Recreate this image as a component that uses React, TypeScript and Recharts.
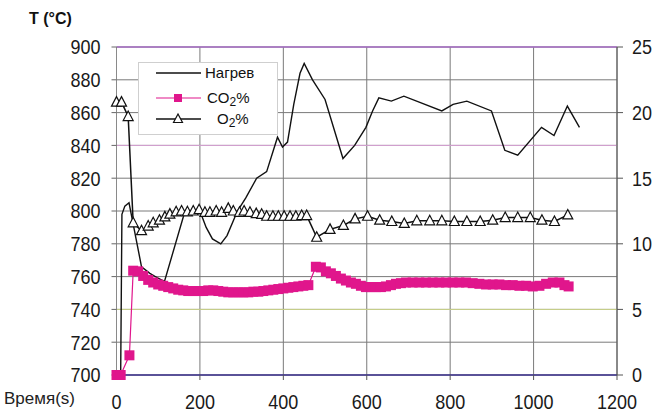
import React from 'react';
import { LineChart, Line, XAxis, YAxis, CartesianGrid, ReferenceLine, Legend } from 'recharts';

// Heating curve (Нагрев), left axis °C
const heatTime = [0, 10, 13, 20, 30, 60, 80, 100, 115, 162, 180, 200, 215, 230, 250, 265, 290, 310, 336, 360, 386, 398, 410, 425, 440, 450, 470, 500, 543, 571, 598, 614, 629, 659, 689, 780, 807, 840, 899, 931, 962, 1019, 1049, 1081, 1110];
const heatTemp = [700, 700, 798, 803, 805, 766, 762, 759, 757, 798, 800, 800, 790, 783, 780, 785, 800, 808, 820, 824, 845, 839, 842, 865, 884, 890, 880, 868, 832, 840, 851, 861, 869, 867, 870, 861, 865, 867, 861, 837, 834, 851, 846, 864, 851];

// CO2 %, right axis
const co2Time = [0, 10, 31, 40, 52, 64, 76, 88, 100, 112, 124, 136, 148, 160, 172, 184, 196, 208, 220, 232, 244, 256, 268, 280, 292, 304, 316, 328, 340, 352, 364, 376, 388, 400, 412, 424, 436, 448, 460, 478, 490, 502, 514, 526, 538, 550, 562, 574, 586, 598, 610, 622, 634, 646, 658, 670, 682, 694, 710, 726, 742, 758, 774, 790, 806, 822, 838, 854, 870, 886, 902, 918, 934, 950, 966, 982, 998, 1014, 1030, 1046, 1062, 1074, 1084];
const co2Value = [0, 0, 1.5, 7.95, 7.9, 7.55, 7.25, 7.05, 6.9, 6.8, 6.7, 6.6, 6.5, 6.45, 6.4, 6.4, 6.4, 6.4, 6.45, 6.45, 6.4, 6.35, 6.3, 6.3, 6.3, 6.3, 6.3, 6.35, 6.35, 6.4, 6.45, 6.5, 6.55, 6.6, 6.65, 6.7, 6.75, 6.8, 6.85, 8.25, 8.2, 7.9, 7.75, 7.55, 7.35, 7.2, 7.05, 6.95, 6.8, 6.7, 6.7, 6.7, 6.7, 6.75, 6.85, 6.95, 7.0, 7.05, 7.05, 7.05, 7.05, 7.05, 7.05, 7.05, 7.05, 7.05, 7.05, 7.0, 6.95, 6.9, 6.9, 6.9, 6.85, 6.85, 6.8, 6.8, 6.75, 6.8, 6.95, 7.05, 7.05, 6.85, 6.75];

// O2 %, right axis
const o2Time = [0, 12, 28, 40, 60, 76, 88, 103, 116, 128, 143, 156, 170, 184, 198, 212, 224, 239, 252, 268, 280, 295, 306, 320, 335, 348, 360, 375, 388, 402, 416, 430, 444, 456, 480, 512, 544, 572, 602, 631, 660, 690, 720, 751, 780, 810, 840, 872, 902, 932, 962, 992, 1020, 1050, 1082];
const o2Value = [20.8, 20.8, 19.7, 11.6, 11.0, 11.35, 11.6, 11.8, 12.05, 12.26, 12.44, 12.5, 12.44, 12.5, 12.6, 12.4, 12.4, 12.5, 12.4, 12.7, 12.5, 12.4, 12.5, 12.4, 12.3, 12.25, 12.1, 12.1, 12.1, 12.1, 12.1, 12.1, 12.15, 12.15, 10.5, 11.1, 11.4, 11.9, 12.1, 11.8, 11.7, 11.55, 11.75, 11.75, 11.75, 11.7, 11.7, 11.7, 11.8, 12.0, 12.0, 12.0, 11.8, 11.7, 12.2];

const xTicks = [0, 200, 400, 600, 800, 1000, 1200];
const tempTicks = [700, 720, 740, 760, 780, 800, 820, 840, 860, 880, 900];
const pctTicks = [0, 5, 10, 15, 20, 25];

const heatData = heatTime.map((t, i) => ({ t, v: heatTemp[i] }));
const co2Data = co2Time.map((t, i) => ({ t, v: co2Value[i] }));
const o2Data = o2Time.map((t, i) => ({ t, v: o2Value[i] }));

const FONT = '"Liberation Sans", Arial, Helvetica, sans-serif';
const PINK = '#e0168c';
const TICK_FS = 18;
const STRETCH = 1.15;

const Square = (props: any) => {
  const { cx, cy, index } = props;
  if (cx == null || cy == null) return <g key={`sq${index}`} />;
  return <rect key={`sq${index}`} x={cx - 5} y={cy - 5} width={10} height={10} fill={PINK} />;
};

const Tri = (props: any) => {
  const { cx, cy, index } = props;
  if (cx == null || cy == null) return <g key={`tr${index}`} />;
  return (
    <polygon
      key={`tr${index}`}
      points={`${cx},${cy - 5.5} ${cx - 5},${cy + 4} ${cx + 5},${cy + 4}`}
      fill="#fff"
      stroke="#111"
      strokeWidth={1.2}
    />
  );
};

const stretched = (x: number, y: number) => `translate(${x},${y}) scale(1,${STRETCH}) translate(${-x},${-y})`;

const XTick = (props: any) => {
  const { x, y, payload } = props;
  return (
    <text x={x} y={y} dy="0.71em" textAnchor="middle" transform={stretched(x, y)} fontFamily={FONT} fontSize={TICK_FS} fill="#1a1a1a">
      {payload.value}
    </text>
  );
};

const LeftTick = (props: any) => {
  const { x, y, payload } = props;
  return (
    <text x={x} y={y} dy="0.355em" textAnchor="end" transform={stretched(x, y)} fontFamily={FONT} fontSize={TICK_FS} fill="#1a1a1a">
      {payload.value}
    </text>
  );
};

const RightTick = (props: any) => {
  const { x, y, payload } = props;
  return (
    <text x={x} y={y} dy="0.355em" textAnchor="start" transform={stretched(x, y)} fontFamily={FONT} fontSize={TICK_FS} fill="#1a1a1a">
      {payload.value}
    </text>
  );
};

const LegendBox = () => (
  <div
    style={{
      position: 'relative',
      width: 140,
      height: 73,
      border: '1px solid #cfcfcf',
      background: '#fff',
      fontFamily: FONT,
      fontSize: 15,
      color: '#111',
      boxSizing: 'border-box',
    }}
  >
    <svg width={140} height={73} style={{ position: 'absolute', left: 0, top: 0 }}>
      <line x1={17} x2={62} y1={10} y2={10} stroke="#111" strokeWidth={1.5} />
      <line x1={17} x2={62} y1={35} y2={35} stroke={PINK} strokeWidth={1.2} />
      <rect x={35} y={31} width={8} height={8} fill={PINK} />
      <line x1={17} x2={62} y1={56} y2={56} stroke="#111" strokeWidth={1.5} />
      <polygon points="39,51 34.5,59.5 43.5,59.5" fill="#fff" stroke="#111" strokeWidth={1.2} />
    </svg>
    <div style={{ position: 'absolute', left: 66, top: 1, lineHeight: '17px' }}>Нагрев</div>
    <div style={{ position: 'absolute', left: 68, top: 26, lineHeight: '17px' }}>
      CO<sub style={{ fontSize: 12, verticalAlign: -3 }}>2</sub>%
    </div>
    <div style={{ position: 'absolute', left: 78, top: 47, lineHeight: '17px' }}>
      O<sub style={{ fontSize: 12, verticalAlign: -3 }}>2</sub>%
    </div>
  </div>
);

export default function App() {
  return (
    <div style={{ position: 'absolute', left: 0, top: 0, width: 670, height: 419, background: '#fff' }}>
      <LineChart width={670} height={419} margin={{ top: 47, right: 13, bottom: 0, left: 56.5 }}>
        <CartesianGrid yAxisId="left" stroke="#7a7a7a" strokeWidth={1} />
        <XAxis
          dataKey="t"
          type="number"
          domain={[0, 1200]}
          ticks={xTicks}
          allowDuplicatedCategory={false}
          tick={<XTick />}
          tickSize={5}
          tickMargin={14}
          height={44}
          tickLine={{ stroke: '#555' }}
          axisLine={{ stroke: '#3a2f8c', strokeWidth: 1.5 }}
        />
        <YAxis
          yAxisId="left"
          domain={[700, 900]}
          ticks={tempTicks}
          width={60}
          tick={<LeftTick />}
          tickSize={5}
          tickMargin={11}
          axisLine={{ stroke: '#8a8a8a' }}
          tickLine={{ stroke: '#666' }}
        />
        <YAxis
          yAxisId="right"
          orientation="right"
          domain={[0, 25]}
          ticks={pctTicks}
          width={40}
          tick={<RightTick />}
          tickSize={6}
          tickMargin={9}
          axisLine={{ stroke: '#555' }}
          tickLine={{ stroke: '#555' }}
        />
        <ReferenceLine yAxisId="left" y={900} stroke="#a66cc4" strokeWidth={1.5} />
        <ReferenceLine yAxisId="left" y={840} stroke="#d9a3d6" strokeWidth={1} />
        <ReferenceLine yAxisId="left" y={740} stroke="#cdd68a" strokeWidth={1} />
        <Legend
          layout="vertical"
          align="center"
          verticalAlign="middle"
          content={<LegendBox />}
          wrapperStyle={{ position: 'absolute', left: 138, top: 62, width: 140, height: 73 }}
        />
        <Line
          yAxisId="right"
          data={co2Data}
          dataKey="v"
          name="CO2%"
          stroke={PINK}
          strokeWidth={1.2}
          dot={Square}
          activeDot={false}
          isAnimationActive={false}
        />
        <Line
          yAxisId="left"
          data={heatData}
          dataKey="v"
          name="Нагрев"
          stroke="#111"
          strokeWidth={1.4}
          dot={false}
          activeDot={false}
          isAnimationActive={false}
        />
        <Line
          yAxisId="right"
          data={o2Data}
          dataKey="v"
          name="O2%"
          stroke="#111"
          strokeWidth={1.5}
          dot={Tri}
          activeDot={false}
          isAnimationActive={false}
        />
      </LineChart>
      <div style={{ position: 'absolute', left: 29, top: 10, fontFamily: FONT, fontWeight: 'bold', fontSize: 16, color: '#111' }}>
        T (°C)
      </div>
      <div style={{ position: 'absolute', left: 4, top: 389, fontFamily: FONT, fontSize: 17, color: '#222' }}>
        Время(s)
      </div>
    </div>
  );
}
